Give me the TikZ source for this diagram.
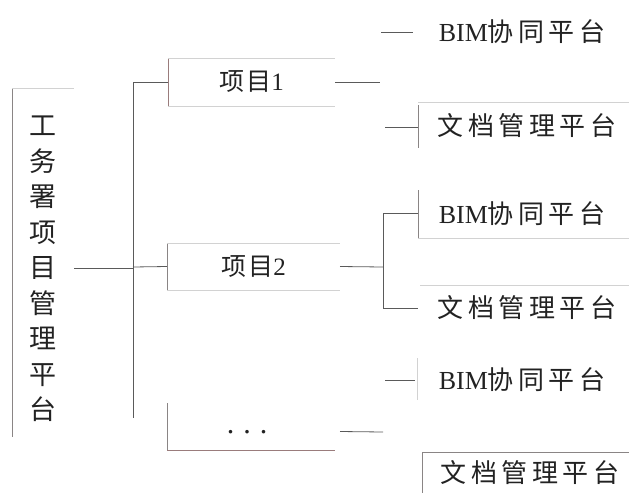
\documentclass[tikz,border=0pt]{standalone}
\usepackage{fontspec}
\usetikzlibrary{calc}
\setmainfont{Liberation Serif}
\newfontfamily\cjk[LetterSpace=17]{Noto Sans CJK SC}
\newfontfamily\cjkp[LetterSpace=8]{Noto Sans CJK SC}
\newfontfamily\cjkv{Noto Sans CJK SC}
\definecolor{linec}{HTML}{5A5A5A}
\definecolor{edgec}{HTML}{8A8585}
\definecolor{redge}{HTML}{9A7C7C}
\definecolor{faintc}{HTML}{D2D2D2}
\definecolor{txt}{HTML}{222222}
\begin{document}
\begin{tikzpicture}[x=1pt,y=-1pt,
 conn/.style={draw=linec, line width=0.8pt},
 edge/.style={draw=edgec, line width=0.8pt},
 redg/.style={draw=redge, line width=0.8pt},
 faint/.style={draw=faintc, line width=0.7pt},
 frame/.style={inner sep=0pt, outer sep=0pt, minimum width=#1},
 lbl/.style={inner sep=0pt, outer sep=0pt, text=txt, font=\fontsize{26}{30}\selectfont},
 plbl/.style={lbl, font=\fontsize{25}{30}\selectfont},
]
\useasboundingbox (0,0) rectangle (629,493);
% main platform
\node[frame=62, minimum height=349] (main) at (43,262.5) {};
\node[lbl, font=\cjkv\fontsize{27}{35.5}\selectfont, align=center] (maintxt) at (43,269)
 {工\\务\\署\\项\\目\\管\\理\\平\\台};
\draw[edge] (main.north west) -- (main.south west);
\draw[faint] (main.north west) -- (main.north east);
% trunk
\coordinate (tm) at (133,268);
\coordinate (t1) at (133,82);
\coordinate (t2) at (133,267);
\coordinate (t3) at (133,418);
\draw[conn] (main.east |- tm) -- (tm);
\draw[conn] (t1) -- (t3);
% projects
\node[plbl, frame=167, minimum height=48] (p1) at (251.5,82) {{\cjkp 项目}1};
\node[plbl, frame=173, minimum height=47] (p2) at (253.5,266.5) {{\cjkp 项目}2};
\node[plbl, frame=168, minimum height=47] (p3) at (251,426.5) {};
\node[lbl, font=\fontsize{30}{30}\selectfont] (dots) at (247,432) {.\hspace{9pt}.\hspace{9pt}.};
\draw[redg] (p1.north west) -- (p1.south west);
\draw[faint] (p1.north west) -- (p1.north east) (p1.south west) -- (p1.south east);
\draw[edge] (p2.north west) -- (p2.south west);
\draw[faint] (p2.north west) -- (p2.north east) (p2.south west) -- (p2.south east);
\draw[edge] (p3.north west) -- (p3.south west);
\draw[redg] (p3.south west) -- (p3.south east);
\draw[conn] (t1) -- (p1.west);
\draw[conn] (t2) -- (p2.west);
% platforms group 1
\node[lbl, frame=211, minimum height=46] (b1) at (522,32) {BIM{\cjk 协同平台}};
\node[lbl, frame=211, minimum height=46] (d1) at (527,126) {{\cjk 文档管理平台}};
\coordinate (e1) at (380,82);
\coordinate (s1) at (381,32);
\coordinate (s2) at (385,127);
\draw[conn] (p1.east) -- (e1);
\draw[conn] (s1) -- (413,32);
\draw[conn] (s2) -- (418,127);
\draw[edge] (418,105) -- (418,148);
\draw[faint] (418,102) -- (629,102);
% platforms group 2
\node[lbl, frame=211, minimum height=48] (b2) at (522,214) {BIM{\cjk 协同平台}};
\node[lbl, frame=211, minimum height=46] (d2) at (527,308) {{\cjk 文档管理平台}};
\coordinate (f2) at (383,267);
\coordinate (f2t) at (383,213);
\coordinate (f2b) at (383,308);
\draw[conn] (p2.east) -- (f2);
\draw[conn] (f2t) -- (f2b);
\draw[conn] (f2t) -- (418,213);
\draw[conn] (f2b) -- (418,308);
\draw[edge] (418,190) -- (418,238);
\draw[faint] (418,238) -- (629,238);
\draw[faint] (420,285) -- (629,285);
% platforms group 3
\node[lbl, frame=212, minimum height=44] (b3) at (522,380) {BIM{\cjk 协同平台}};
\node[lbl, frame=207, minimum height=42] (d3) at (530,473) {{\cjk 文档管理平台}};
\coordinate (g3) at (383,432);
\coordinate (s3) at (385,380);
\draw[conn] ($(p3.east)+(5,5)$) -- (g3);
\draw[conn] (s3) -- (415,380);
\draw[faint] (417,358) -- (417,400);
\draw[edge] (422,452) -- (422,493);
\draw[edge] (422,452) -- (629,452);
\end{tikzpicture}
\end{document}
